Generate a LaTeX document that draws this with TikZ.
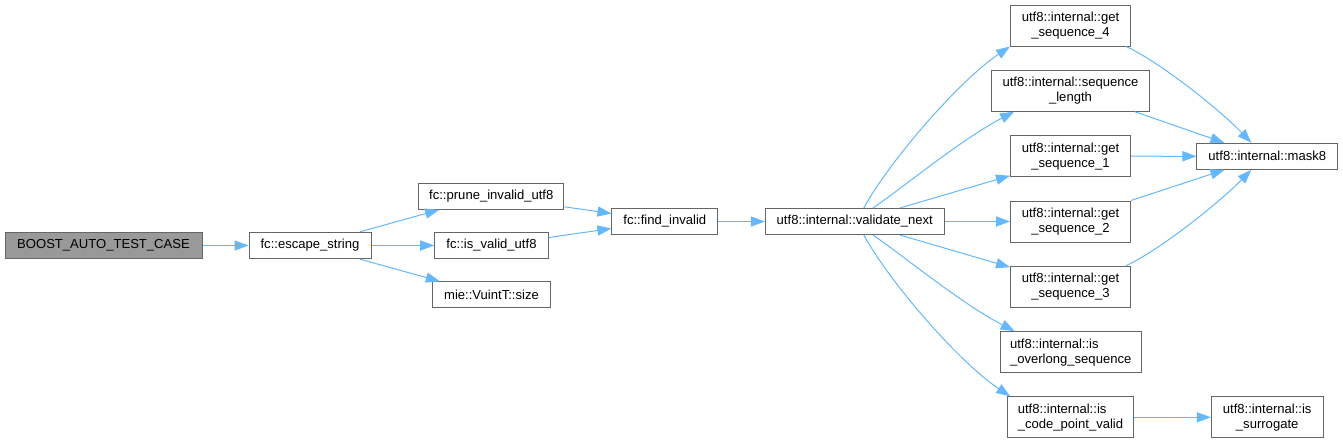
\documentclass[tikz,border=0pt]{standalone}
\usepackage{fontspec}
\setmainfont{Liberation Sans}
\usetikzlibrary{arrows.meta,calc}
\definecolor{edgecol}{HTML}{63B8FF}
\definecolor{boxborder}{HTML}{666666}
\definecolor{rootfill}{HTML}{999999}
\begin{document}
\begin{tikzpicture}[x=0.75pt,y=-0.75pt,
  box/.style={draw=boxborder, fill=white, line width=0.75pt, inner sep=0pt, align=center,
    font=\fontsize{9.8}{11.25}\selectfont, text=black},
  sz/.style 2 args={minimum width=#1*0.75pt, minimum height=#2*0.75pt},
  edge/.style={draw=edgecol, line width=0.75pt, -{Triangle[length=10.5pt,width=7.6pt]}}]
\useasboundingbox (0,0) rectangle (1343,443);
% nodes
\node[box, fill=rootfill, sz={197}{26.4}] (root) at (103.5,245.5) {BOOST\_AUTO\_TEST\_CASE};
\node[box, sz={122}{26.4}] (esc) at (310,245.5) {fc::escape\_string};
\node[box, sz={145.3}{26}] (prune) at (491.3,196.3) {fc::prune\_invalid\_utf8};
\node[box, sz={113.6}{26}] (isvalid) at (491.5,245.5) {fc::is\_valid\_utf8};
\node[box, sz={118.4}{26}] (mie) at (491.5,294.8) {mie::VuintT::size};
\node[box, sz={105.7}{26}] (find) at (664.8,221.5) {fc::find\_invalid};
\node[box, sz={178.8}{26}] (vn) at (854.8,221.5) {utf8::internal::validate\_next};
\node[box, sz={120}{41}] (gs4) at (1070.5,25.5) {utf8::internal::get\\\_sequence\_4};
\node[box, sz={157.7}{41}] (sl) at (1070.5,90.7) {utf8::internal::sequence\\\_length};
\node[box, sz={120}{41}] (gs1) at (1070.5,156.2) {utf8::internal::get\\\_sequence\_1};
\node[box, sz={120}{41}] (gs2) at (1070.5,221.5) {utf8::internal::get\\\_sequence\_2};
\node[box, sz={120}{41}] (gs3) at (1070.5,286.7) {utf8::internal::get\\\_sequence\_3};
\node[box, align=left, sz={141}{41}] (ov) at (1070.7,352.2) {utf8::internal::is\\\_overlong\_sequence};
\node[box, align=left, sz={125.6}{41}] (cp) at (1070.5,417.3) {utf8::internal::is\\\_code\_point\_valid};
\node[box, sz={140.7}{26}] (mask) at (1267.3,156.3) {utf8::internal::mask8};
\node[box, sz={111.7}{41}] (sur) at (1267.2,417.3) {utf8::internal::is\\\_surrogate};
% edges
\draw[edge] (root.east) -- (esc.west);
\draw[edge] ($(esc.north)+(50,0)$) -- ($(prune.south west)+(21,0)$);
\draw[edge] (esc.east) -- (isvalid.west);
\draw[edge] ($(esc.south)+(50,0)$) -- ($(mie.north west)+(8,0)$);
\draw[edge] ($(prune.south east)+(0,-3)$) -- ($(find.west)+(0,-8)$);
\draw[edge] ($(isvalid.east)+(0,-8)$) -- ($(find.west)+(0,7)$);
\draw[edge] (find.east) -- (vn.west);
\draw[edge] ($(vn.north)+(9,0)$) .. controls (890,160) and (960,80) .. (gs4.south west);
\draw[edge] ($(vn.north)+(18,0)$) .. controls (900,190) and (960,140) .. ($(sl.south west)+(23,0)$);
\draw[edge] ($(vn.north)+(45,0)$) -- ($(gs1.south west)+(0,-1.5)$);
\draw[edge] (vn.east) -- (gs2.west);
\draw[edge] ($(vn.south)+(45,0)$) -- ($(gs3.north west)+(0,1.5)$);
\draw[edge] ($(vn.south)+(18,0)$) .. controls (900,253) and (960,303) .. ($(ov.north west)+(15,0)$);
\draw[edge] ($(vn.south)+(9,0)$) .. controls (890,283) and (960,363) .. ($(cp.north west)+(3,0)$);
\draw[edge] ($(gs4.south east)+(-5,0)$) .. controls (1160,62) and (1220,110) .. ($(mask.north)+(-16,0)$);
\draw[edge] ($(sl.south east)+(-15,0)$) -- ($(mask.north west)+(28,0)$);
\draw[edge] (gs1.east) -- (mask.west);
\draw[edge] (gs2.north east) -- ($(mask.south west)+(28,0)$);
\draw[edge] ($(gs3.north east)+(-5,0)$) .. controls (1160,250) and (1220,202) .. ($(mask.south)+(-16,0)$);
\draw[edge] (cp.east) -- (sur.west);
\end{tikzpicture}
\end{document}
